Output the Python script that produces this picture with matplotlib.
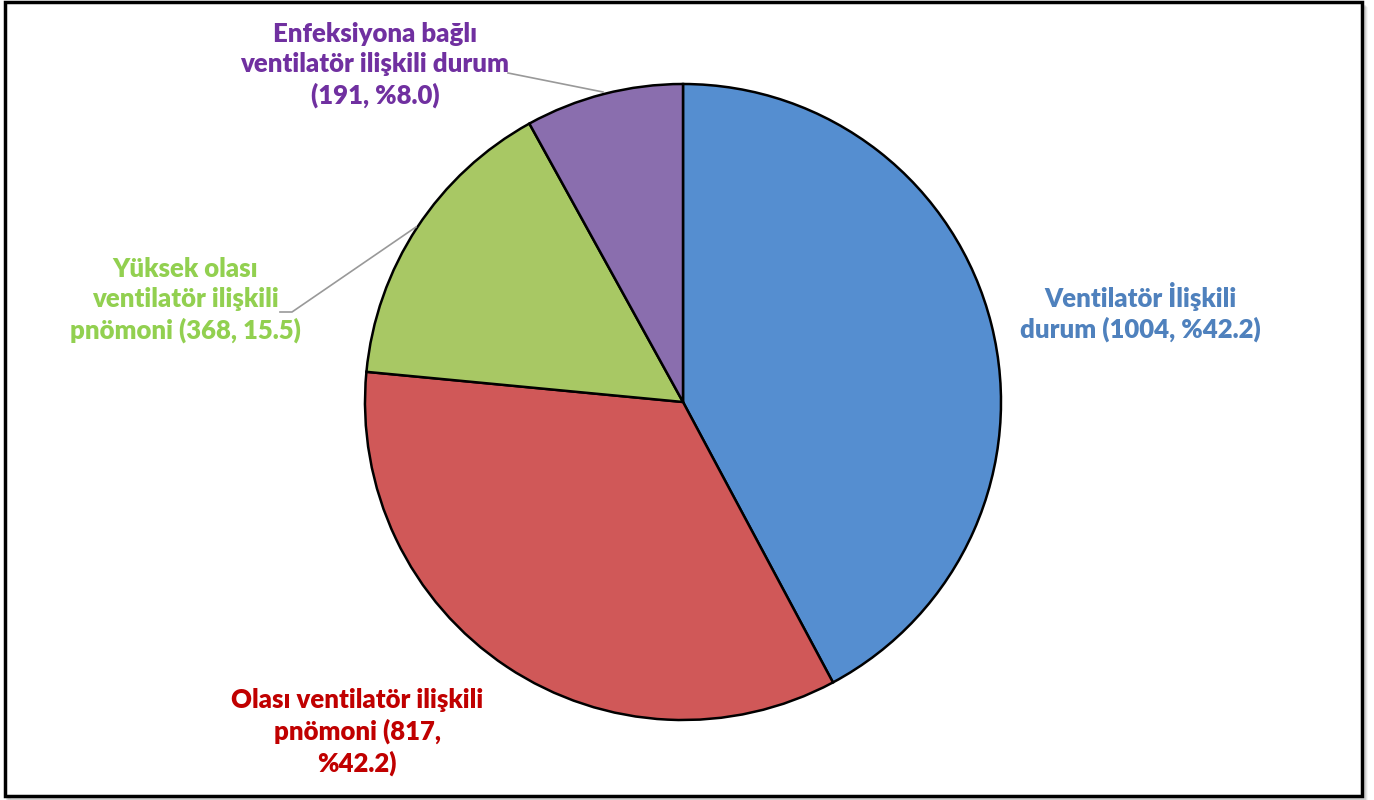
import matplotlib.pyplot as plt
from matplotlib.patches import Rectangle

# slice data (clockwise from 12 o'clock)
counts = [1004, 817, 368, 191]
labels = ['Ventilatör İlişkili\ndurum (1004, %42.2)',
          'Olası ventilatör ilişkili\npnömoni (817,\n%42.2)',
          'Yüksek olası\nventilatör ilişkili\npnömoni (368, 15.5)',
          'Enfeksiyona bağlı\nventilatör ilişkili durum\n(191, %8.0)']
wedge_colors = ['#558ed0', '#d05858', '#a8c864', '#8a6eae']
text_colors = ['#4f81bd', '#c00000', '#92d050', '#7030a0']
label_pos = [(1.437, 0.283), (-1.025, -1.038), (-1.566, 0.321), (-0.969, 1.06)]

W, H = 1374, 800
fig = plt.figure(figsize=(W / 100, H / 100), dpi=100)

# outer frame with a soft shadow on right/bottom
for k, a in enumerate([0.10, 0.07, 0.04]):
    fig.patches.append(Rectangle((5 / W + (k + 2) / W, 4 / H - (k + 2) / H),
                                 1357 / W, 792 / H, transform=fig.transFigure,
                                 facecolor='none', edgecolor='black', alpha=a, lw=2, zorder=-10))
fig.patches.append(Rectangle((5 / W, 4 / H), 1357 / W, 794 / H, transform=fig.transFigure,
                             facecolor='white', edgecolor='black', lw=2.5, zorder=-5))

cx, cy, r = 683, 402, 318
ax = fig.add_axes([(cx - r) / W, (H - cy - r) / H, 2 * r / W, 2 * r / H])
ax.set_zorder(5)

wedges, _ = ax.pie(counts, colors=wedge_colors, startangle=90, counterclock=False,
                   radius=1, wedgeprops=dict(edgecolor='black', linewidth=1.8))
for w in wedges:
    w.set_clip_on(False)
ax.set_xlim(-1, 1)
ax.set_ylim(-1, 1)
ax.axis('off')

for lab, col, (x, y) in zip(labels, text_colors, label_pos):
    ax.text(x, y, lab, color=col, fontsize=18.5, fontweight='heavy', family=['Lato', 'DejaVu Sans'],
            ha='center', va='center', linespacing=1.3, clip_on=False)

# leader lines (in data coords)
def px(x, y):
    return ((x - cx) / r, (cy - y) / r)

for pts in [[(508, 73), (603, 92)], [(280, 312), (292, 312), (416, 227)]]:
    xs, ys = zip(*[px(*p) for p in pts])
    ax.plot(xs, ys, color='#999999', lw=1.2, clip_on=False)

fig.savefig('out.png', dpi=100)
